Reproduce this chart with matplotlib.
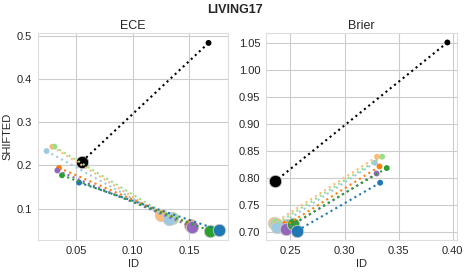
import matplotlib
matplotlib.use("Agg")
import matplotlib.pyplot as plt
import seaborn as sns

# series order: black reference, then tab20-like pairs
names = ["ref", "lorange", "lgreen", "lblue", "orange", "purple", "green", "blue"]
colors = ["black", "#ffbb78", "#98df8a", "#9ecae1", "#ff7f0e", "#9467bd", "#2ca02c", "#1f77b4"]

# ECE: small end (x, y) and big end (x, y)
ece_small_x = [0.167, 0.029, 0.031, 0.024, 0.035, 0.0335, 0.0376, 0.0527]
ece_small_y = [0.483, 0.243, 0.243, 0.233, 0.194, 0.188, 0.177, 0.160]
ece_big_x = [0.055, 0.125, 0.1347, 0.1317, 0.151, 0.152, 0.168, 0.1765]
ece_big_y = [0.208, 0.086, 0.077, 0.0767, 0.063, 0.058, 0.0488, 0.050]

# Brier
bri_small_x = [0.395, 0.330, 0.3347, 0.328, 0.3323, 0.3296, 0.339, 0.3329]
bri_small_y = [1.051, 0.840, 0.840, 0.8287, 0.822, 0.809, 0.819, 0.792]
bri_big_x = [0.2362, 0.2349, 0.237, 0.238, 0.2465, 0.2456, 0.252, 0.256]
bri_big_y = [0.795, 0.7175, 0.716, 0.711, 0.714, 0.706, 0.715, 0.703]

sns.set_style("whitegrid")
plt.rcParams["font.family"] = ["Liberation Sans", "DejaVu Sans"]

fig, axes = plt.subplots(1, 2, figsize=(4.69, 2.75), dpi=100)
fig.subplots_adjust(left=0.081, right=0.974, top=0.88, bottom=0.127, wspace=0.2)

panels = [
    (axes[0], "ECE", ece_small_x, ece_small_y, ece_big_x, ece_big_y),
    (axes[1], "Brier", bri_small_x, bri_small_y, bri_big_x, bri_big_y),
]

for ax, title, sx, sy, bx, by in panels:
    for i, c in enumerate(colors):
        ax.scatter(sx[i], sy[i], s=18, color=c, edgecolor="none", zorder=3)
        ax.scatter(bx[i], by[i], s=80, color=c, edgecolor="#cccccc", lw=0.6, zorder=3)
    for i, c in enumerate(colors):
        ax.plot([sx[i], bx[i]], [sy[i], by[i]], ls=":", color=c, lw=1.5, zorder=4)
    ax.set_title(title, fontsize=9, pad=3)
    ax.set_xlabel("ID", fontsize=8, labelpad=2)
    ax.tick_params(labelsize=8, pad=1)
    for s in ax.spines.values():
        s.set_color("#dddddd")

axes[0].set_ylabel("SHIFTED", fontsize=8, labelpad=3)
axes[0].set_xlim(0.0164, 0.1845)
axes[0].set_ylim(0.027, 0.506)
axes[0].set_xticks([0.05, 0.10, 0.15])
axes[0].set_yticks([0.1, 0.2, 0.3, 0.4, 0.5])

axes[1].set_xlim(0.2279, 0.4037)
axes[1].set_ylim(0.686, 1.0685)
axes[1].set_xticks([0.25, 0.30, 0.35, 0.40])
axes[1].set_yticks([0.70, 0.75, 0.80, 0.85, 0.90, 0.95, 1.00, 1.05])
axes[1].yaxis.set_major_formatter(matplotlib.ticker.FormatStrFormatter("%.2f"))
axes[0].xaxis.set_major_formatter(matplotlib.ticker.FormatStrFormatter("%.2f"))

fig.suptitle("LIVING17", fontsize=9, fontweight="bold", y=0.985)

plt.savefig("out.png", dpi=100)
